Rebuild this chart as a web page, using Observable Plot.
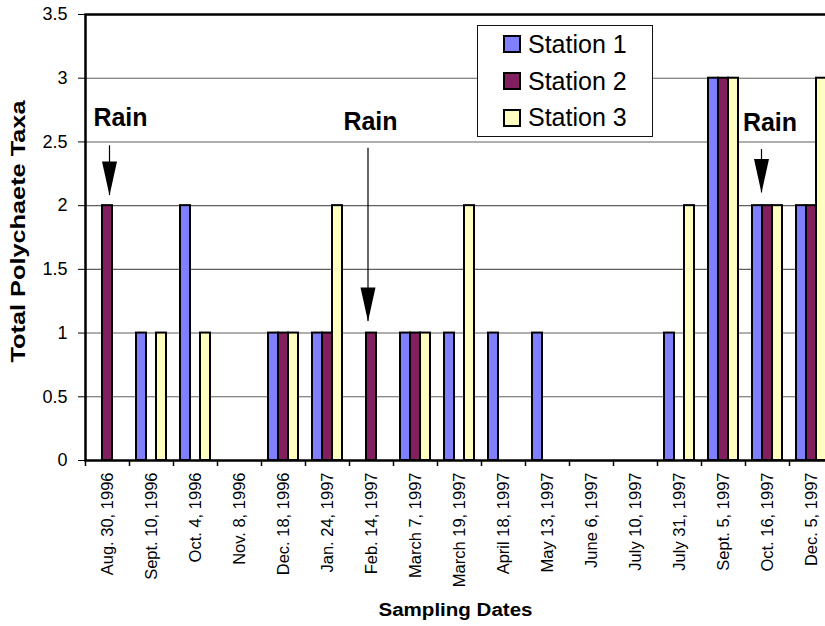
<!DOCTYPE html>
<html>
<head>
<meta charset="utf-8">
<script src="https://cdn.jsdelivr.net/npm/d3@7"></script>
<script src="https://cdn.jsdelivr.net/npm/@observablehq/plot@0.6"></script>
<style>
  html, body { margin: 0; padding: 0; background: #fff; }
  #chart { position: relative; width: 825px; height: 626px; overflow: hidden;
           font-family: "Liberation Sans", Arial, sans-serif; }
  #chart svg { display: block; overflow: hidden; }
  .legend { position: absolute; left: 477px; top: 25px; width: 176px; height: 112px;
            box-sizing: border-box; border: 1px solid #111; background: #fff; }
  .legend .row { position: absolute; left: 0; height: 25px; display: flex; align-items: center;
                 font-size: 25px; line-height: 25px; color: #000; white-space: nowrap; }
  .legend .sw { width: 18px; height: 18px; box-sizing: border-box; border: 2px solid #000;
                margin-left: 25px; margin-right: 7px; }
</style>
</head>
<body>
<div id="chart"></div>
<script>
// Sampling dates (one group of bars per date)
const dates = [
  "Aug. 30, 1996", "Sept. 10, 1996", "Oct. 4, 1996", "Nov. 8, 1996", "Dec. 18, 1996",
  "Jan. 24, 1997", "Feb. 14, 1997", "March 7, 1997", "March 19, 1997", "April 18, 1997",
  "May 13, 1997", "June 6, 1997", "July 10, 1997", "July 31, 1997", "Sept. 5, 1997",
  "Oct. 16, 1997", "Dec. 5, 1997"
];

// Total polychaete taxa per station
const station1 = [0, 1, 2, 0, 1, 1, 0, 1, 1, 1, 1, 0, 0, 1, 3, 2, 2];
const station2 = [2, 0, 0, 0, 1, 1, 1, 1, 0, 0, 0, 0, 0, 0, 3, 2, 2];
const station3 = [0, 1, 1, 0, 1, 2, 0, 1, 2, 0, 0, 0, 0, 2, 3, 2, 3];

const stations = ["Station 1", "Station 2", "Station 3"];
const stationColors = ["#8080ff", "#82205f", "#ffffc0"];

const yTicks = [0, 0.5, 1, 1.5, 2, 2.5, 3, 3.5];

// Dates on which rain fell
const rainDates = ["Aug. 30, 1996", "Feb. 14, 1997", "Oct. 16, 1997"];

const series = [station1, station2, station3];
const rows = stations.flatMap((station, k) =>
  dates.map((date, i) => ({date, station, value: series[k][i]}))
);

// Layout of the rain call-outs: label height, arrow stem top and arrow tip
// (in taxa units) plus small horizontal nudges in pixels.
const rainNotes = [
  {date: rainDates[0], label: 2.69, stem: 2.47, tip: 2.08, dxLabel: 13, dxArrow: 2},
  {date: rainDates[1], label: 2.66, stem: 2.45, tip: 1.09, dxLabel: -1, dxArrow: -3.5},
  {date: rainDates[2], label: 2.65, stem: 2.44, tip: 2.10, dxLabel: 2.5, dxArrow: -6}
];

// Filled, elongated arrowhead with its tip at the anchor point
const arrowHead = {
  draw(context) {
    context.moveTo(-7.5, -34);
    context.lineTo(7.5, -34);
    context.lineTo(0, 0);
    context.closePath();
  }
};

const width = 825, height = 626;
const marginLeft = 85, marginRight = -8, marginTop = 14, marginBottom = 166;
const step = (width - marginRight - marginLeft) / dates.length;

const chart = Plot.plot({
  width, height, marginLeft, marginRight, marginTop, marginBottom,
  style: {fontFamily: '"Liberation Sans", Arial, sans-serif', background: "white", overflow: "hidden", color: "black"},
  x: {type: "band", domain: dates, padding: 0},
  y: {domain: [0, 3.5]},
  color: {domain: stations, range: stationColors},
  marks: [
    Plot.ruleY(yTicks.filter(t => t > 0 && t < 3.5), {stroke: "#606060", strokeWidth: 1.1}),
    ...stations.map((s, k) => Plot.barY(rows.filter(r => r.station === s && r.value > 0), {
      x: "date", y: "value", fill: "station",
      stroke: "black", strokeWidth: 2,
      insetLeft: 7 + 10 * k, insetRight: 27 - 10 * k
    })),
    Plot.frame({stroke: "black", strokeWidth: 2.5}),
    Plot.axisY({ticks: yTicks, tickSize: 7, tickPadding: 11, tickFormat: d => String(d), fontSize: 18, label: null}),
    Plot.axisX({tickSize: 0, tickPadding: 12, tickRotate: -90, fontSize: 16.5, label: null}),
    Plot.axisX({tickSize: 6, tickFormat: () => "", dx: -step / 2, label: null, strokeWidth: 1.5}),
    ...rainNotes.flatMap(r => [
      Plot.ruleX([r], {x: "date", y1: "stem", y2: "tip", dx: r.dxArrow, stroke: "black", strokeWidth: 1.2}),
      Plot.dot([r], {x: "date", y: "tip", symbol: arrowHead, fill: "black", dx: r.dxArrow}),
      Plot.text([r], {x: "date", y: "label", text: () => "Rain", fontSize: 25, fontWeight: "bold", dx: r.dxLabel})
    ]),
    Plot.text(["Total Polychaete Taxa"], {
      frameAnchor: "left", text: d => d, textAnchor: "middle", rotate: -90,
      dx: -67, dy: -6, fontSize: 20, fontWeight: "bold"
    }),
    Plot.text(["Sampling Dates"], {
      frameAnchor: "bottom", text: d => d, textAnchor: "middle",
      dx: -4, dy: 155, fontSize: 18, fontWeight: "bold"
    })
  ]
});

const container = document.getElementById("chart");
container.appendChild(chart);

// The axis titles are set wide
const titleLengths = {"Total Polychaete Taxa": 262, "Sampling Dates": 154};
chart.querySelectorAll("text").forEach(t => {
  const len = titleLengths[t.textContent];
  if (len) {
    t.setAttribute("textLength", len);
    t.setAttribute("lengthAdjust", "spacingAndGlyphs");
  }
});

// Legend box inside the plot area
const legend = d3.select(container).append("div").attr("class", "legend");
const rowCenters = [18, 55, 91.5];
stations.forEach((s, k) => {
  const row = legend.append("div").attr("class", "row").style("top", (rowCenters[k] - 12.5) + "px");
  row.append("div").attr("class", "sw").style("background", stationColors[k]);
  row.append("span").text(s);
});
</script>
</body>
</html>
